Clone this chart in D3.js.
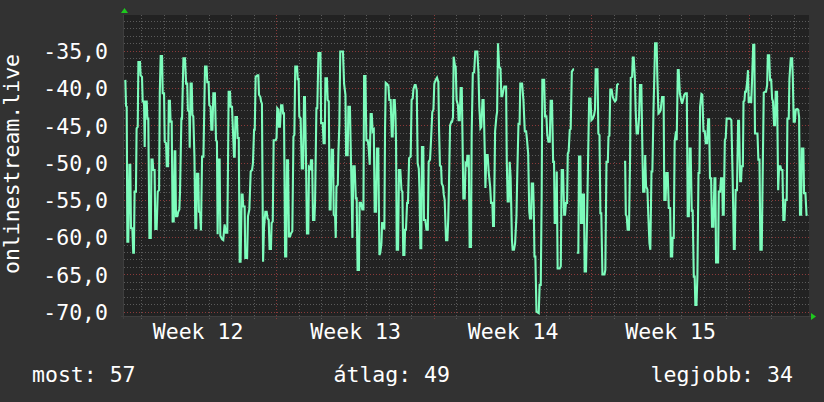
<!DOCTYPE html>
<html>
<head>
<meta charset="utf-8">
<script src="https://cdn.jsdelivr.net/npm/d3@7"></script>
<style>
  html, body { margin: 0; padding: 0; background: #323232; }
  svg { display: block; }
  text { font-family: "DejaVu Sans Mono", monospace; fill: #ffffff; }
</style>
</head>
<body>
<svg id="chart" width="824" height="402"></svg>
<script>
// ---------------- DATA ----------------
// time in days since Monday of Week 12, value in dB (null = no data)
const seriesWeek12 = [
[0.29,-38.9],[0.32,-42.4],[0.35,-42.5],[0.38,-60.6],[0.42,-60.6],[0.47,-50.3],[0.51,-50.3],[0.54,-58.8],[0.60,-58.8],[0.64,-62.1],[0.67,-62.1],[0.70,-53.9],[0.76,-53.9],[0.79,-45.4],[0.84,-45.2],[0.87,-36.5],[0.94,-36.5],[0.97,-38.3],[1.03,-38.5],[1.06,-41.8],[1.12,-41.8],[1.15,-47.9],[1.18,-41.8],[1.24,-41.8],[1.27,-44.1],[1.31,-44.1],[1.36,-60.1],[1.42,-60.1],[1.45,-49.6],[1.50,-49.6],[1.53,-51.0],[1.59,-51.0],[1.62,-58.9],[1.68,-58.9],[1.73,-53.9],[1.79,-53.7],[1.82,-40.7],[1.86,-35.7],[1.92,-35.7],[1.95,-40.7],[2.01,-40.7],[2.04,-47.2],[2.10,-47.4],[2.13,-50.5],[2.19,-50.5],[2.22,-41.7],[2.27,-41.7],[2.30,-44.5],[2.35,-44.5],[2.39,-57.9],[2.44,-57.9],[2.48,-48.5],[2.51,-48.5],[2.54,-57.2],[2.60,-57.2],[2.64,-56.6],[2.69,-56.3],[2.72,-53.9],[2.78,-44.1],[2.81,-44.1],[2.87,-36.0],[2.94,-36.0],[2.99,-39.4],[3.04,-39.4],[3.07,-43.0],[3.13,-43.2],[3.15,-48.0],[3.19,-39.4],[3.24,-39.4],[3.27,-43.6],[3.31,-43.8],[3.36,-49.2],[3.40,-58.8],[3.44,-58.8],[3.47,-51.5],[3.53,-51.5],[3.56,-56.6],[3.61,-56.7],[3.65,-59.1],[3.70,-49.2],[3.76,-49.2],[3.83,-37.1],[3.90,-37.1],[3.93,-39.2],[3.99,-39.2],[4.02,-42.3],[4.08,-42.5],[4.11,-45.6],[4.16,-45.6],[4.20,-40.7],[4.27,-40.7],[4.32,-47.0],[4.36,-47.2],[4.39,-59.6],[4.44,-49.6],[4.48,-49.6],[4.51,-59.8],[4.59,-60.3],[4.64,-60.4],[4.70,-58.3],[4.76,-59.4],[4.82,-59.4],[4.85,-50.8],[4.88,-40.5],[4.94,-40.5],[4.97,-42.5],[5.03,-42.5],[5.07,-45.6],[5.12,-49.2],[5.15,-49.2],[5.18,-43.9],[5.25,-43.9],[5.28,-46.7],[5.33,-46.7],[5.37,-63.3],[5.41,-63.3],[5.46,-54.3],[5.50,-54.3],[5.53,-55.9],[5.59,-55.9],[5.62,-62.8],[5.70,-62.8],[5.74,-57.2],[5.80,-56.3],[5.86,-51.2],[5.92,-51.0],[5.96,-50.1],[6.01,-45.6],[6.04,-45.6],[6.08,-38.5],[6.16,-38.3]
];
const seriesWeek13 = [
[6.20,-38.3],[6.23,-40.9],[6.29,-41.2],[6.32,-41.8],[6.36,-42.1],[6.41,-63.3],[6.45,-58.8],[6.51,-56.6],[6.57,-56.6],[6.61,-57.5],[6.66,-57.7],[6.70,-61.6],[6.76,-61.6],[6.79,-58.1],[6.84,-57.9],[6.88,-47.0],[6.97,-47.0],[7.01,-46.7],[7.04,-42.7],[7.09,-42.9],[7.12,-45.2],[7.16,-45.2],[7.21,-42.3],[7.27,-42.3],[7.30,-43.4],[7.34,-43.4],[7.39,-62.6],[7.44,-62.6],[7.47,-49.7],[7.52,-49.7],[7.56,-59.9],[7.61,-59.9],[7.65,-59.5],[7.71,-59.2],[7.76,-46.5],[7.80,-46.3],[7.84,-37.1],[7.92,-37.1],[7.95,-38.8],[7.99,-38.8],[8.02,-43.8],[8.08,-44.1],[8.13,-50.8],[8.19,-50.8],[8.23,-41.2],[8.27,-41.2],[8.32,-50.1],[8.36,-59.5],[8.42,-59.5],[8.45,-50.6],[8.51,-50.8],[8.54,-49.7],[8.59,-49.7],[8.63,-57.7],[8.69,-57.7],[8.72,-55.4],[8.78,-42.7],[8.82,-42.7],[8.87,-35.3],[8.96,-35.3],[8.99,-44.7],[9.06,-44.7],[9.10,-47.4],[9.15,-47.4],[9.18,-38.7],[9.25,-38.7],[9.28,-41.6],[9.33,-41.8],[9.37,-56.3],[9.41,-56.3],[9.46,-48.3],[9.52,-48.3],[9.55,-57.0],[9.61,-57.2],[9.64,-60.1],[9.67,-53.2],[9.73,-53.0],[9.76,-48.5],[9.80,-45.0],[9.84,-35.1],[9.96,-35.1],[10.01,-39.4],[10.07,-40.9],[10.10,-49.0],[10.17,-49.0],[10.20,-42.5],[10.27,-42.5],[10.30,-47.2],[10.35,-54.8],[10.38,-60.1],[10.42,-50.5],[10.48,-50.5],[10.53,-54.8],[10.57,-54.8],[10.61,-64.4],[10.67,-64.4],[10.70,-55.4],[10.76,-55.4],[10.82,-56.3],[10.87,-56.3],[10.90,-38.4],[10.96,-38.4],[11.00,-47.0],[11.06,-47.0],[11.10,-47.9],[11.15,-50.3],[11.19,-43.5],[11.24,-43.5],[11.28,-45.8],[11.33,-45.6],[11.37,-56.6],[11.43,-56.6],[11.47,-48.1],[11.53,-48.1],[11.58,-62.4],[11.62,-62.1],[11.67,-60.8],[11.70,-58.1],[11.76,-58.1],[11.80,-59.0],[11.83,-45.6],[11.86,-39.3],[11.93,-39.5],[11.98,-39.7],[12.02,-41.6],[12.08,-41.6],[12.13,-46.5],[12.17,-46.5],[12.21,-41.6]
];
const seriesWeek14 = [
[12.26,-41.6],[12.29,-43.4],[12.32,-47.4],[12.35,-61.7],[12.41,-61.7],[12.45,-51.0],[12.51,-51.0],[12.56,-53.7],[12.60,-53.9],[12.64,-62.4],[12.69,-62.4],[12.72,-59.0],[12.76,-59.0],[12.81,-55.4],[12.85,-55.4],[12.90,-49.4],[12.97,-49.2],[13.01,-41.6],[13.06,-41.4],[13.09,-40.2],[13.15,-39.6],[13.19,-39.6],[13.24,-40.3],[13.28,-50.1],[13.33,-50.8],[13.36,-53.7],[13.40,-61.5],[13.44,-61.5],[13.47,-47.9],[13.53,-47.9],[13.56,-57.7],[13.62,-57.7],[13.67,-59.0],[13.73,-59.0],[13.77,-49.9],[13.83,-49.6],[13.87,-47.2],[13.93,-43.2],[13.98,-42.9],[14.02,-39.4],[14.08,-38.9],[14.14,-38.6],[14.20,-39.2],[14.23,-45.6],[14.27,-50.4],[14.32,-50.5],[14.35,-52.8],[14.41,-53.2],[14.44,-54.3],[14.48,-55.0],[14.51,-57.7],[14.54,-60.4],[14.60,-60.4],[14.64,-57.5],[14.67,-53.2],[14.72,-45.0],[14.78,-44.5],[14.81,-44.5],[14.85,-43.9],[14.88,-35.8],[14.93,-36.9],[14.97,-37.1],[15.01,-41.6],[15.07,-42.3],[15.10,-44.3],[15.15,-44.3],[15.19,-40.0],[15.24,-40.0],[15.27,-46.1],[15.31,-54.8],[15.37,-54.8],[15.41,-50.1],[15.46,-50.3],[15.49,-49.1],[15.55,-49.1],[15.59,-61.3],[15.65,-61.3],[15.68,-46.1],[15.73,-38.0],[15.79,-37.9],[15.84,-35.1],[15.93,-35.1],[15.98,-37.8],[16.02,-42.5],[16.07,-45.4],[16.11,-45.2],[16.16,-41.6],[16.21,-41.6],[16.26,-48.3],[16.29,-53.4],[16.33,-49.0],[16.39,-49.0],[16.44,-51.4],[16.50,-53.2],[16.54,-55.4],[16.60,-55.4],[16.63,-58.5],[16.67,-58.5],[16.72,-45.8],[16.78,-43.8],[16.81,-43.2],[16.85,-34.0],[16.90,-37.1],[16.96,-37.4],[17.00,-41.1],[17.04,-41.1],[17.09,-40.3],[17.13,-39.8],[17.21,-39.8],[17.24,-49.9],[17.28,-55.2],[17.33,-55.2],[17.37,-49.9],[17.41,-51.9],[17.47,-60.4],[17.50,-61.7],[17.56,-61.7],[17.61,-60.8],[17.67,-57.2],[17.71,-51.0],[17.76,-44.8],[17.81,-44.8],[17.84,-39.4],[17.92,-39.4],[17.98,-41.6],[18.04,-45.8],[18.10,-45.8],[18.14,-47.0],[18.19,-48.8],[18.24,-56.6]
];
const seriesWeek15 = [
[18.27,-57.5],[18.32,-57.5],[18.35,-52.8],[18.41,-52.8],[18.44,-56.1],[18.47,-62.6],[18.51,-62.6],[18.56,-70.0],[18.66,-70.2],[18.70,-66.4],[18.75,-66.4],[18.79,-54.6],[18.82,-38.9],[18.90,-38.9],[18.94,-43.8],[19.00,-43.8],[19.04,-46.3],[19.09,-47.2],[19.15,-47.2],[19.19,-41.7],[19.25,-41.7],[19.30,-49.9],[19.34,-49.9],[19.37,-58.1],[19.43,-58.1],[19.46,-51.2],[19.50,-64.2],[19.59,-64.2],[19.64,-63.9],[19.68,-51.0],[19.74,-51.0],[19.79,-57.0],[19.83,-57.0],[19.87,-55.4],[19.92,-55.4],[19.95,-48.8],[19.99,-48.5],[20.04,-45.6],[20.08,-45.5],[20.13,-37.8],[20.20,-37.5],[20.23,-37.5],
[20.29,null],
[20.35,-62.1],[20.42,-62.1],[20.45,-49.2],[20.51,-49.2],[20.54,-58.1],[20.59,-58.1],[20.61,-54.3],[20.67,-54.3],[20.70,-64.6],[20.76,-64.6],[20.81,-57.2],[20.85,-50.1],[20.90,-41.4],[20.96,-41.4],[21.00,-44.3],[21.06,-44.1],[21.12,-43.6],[21.16,-42.9],[21.19,-37.5],[21.27,-37.5],[21.31,-46.1],[21.36,-46.3],[21.40,-56.8],[21.44,-56.8],[21.49,-65.0],[21.58,-65.0],[21.62,-64.4],[21.67,-49.9],[21.73,-49.9],[21.76,-46.5],[21.80,-46.4],[21.84,-40.2],[21.90,-40.2],[21.95,-41.2],[22.01,-41.6],[22.05,-41.8],[22.10,-41.6],[22.14,-39.6],[22.21,-39.4],
[22.33,null],
[22.45,-49.9],[22.50,-49.9],[22.53,-57.0],[22.57,-57.2],[22.61,-59.0],[22.67,-59.0],[22.72,-49.2],[22.75,-38.6],[22.81,-38.5],[22.84,-35.9],[22.88,-35.9],[22.93,-38.5],[22.97,-43.2],[23.01,-46.1],[23.07,-46.1],[23.12,-43.8],[23.16,-39.6],[23.22,-39.6],[23.27,-49.0],[23.30,-53.9],[23.36,-53.9],[23.39,-49.0],[23.43,-53.2],[23.49,-53.6],[23.53,-57.2],[23.58,-60.8],[23.62,-61.7],[23.67,-51.2],[23.71,-51.2],[23.76,-42.9],[23.80,-38.0],[23.83,-34.0],[23.90,-34.0],[23.93,-38.5],[23.98,-43.4],[24.04,-43.2],[24.08,-42.9],[24.14,-41.2],[24.21,-41.2],[24.24,-55.0]
];
const seriesWeek16 = [
[24.30,-55.0],[24.33,-51.4],[24.39,-51.4],[24.44,-56.1],[24.50,-56.1],[24.53,-62.6],[24.59,-62.6],[24.61,-60.1],[24.66,-60.1],[24.70,-47.2],[24.76,-45.8],[24.79,-47.0],[24.84,-37.6],[24.88,-37.6],[24.93,-40.7],[24.99,-41.6],[25.03,-42.1],[25.07,-41.6],[25.13,-40.9],[25.18,-40.7],[25.24,-40.7],[25.28,-57.2],[25.33,-57.2],[25.37,-48.1],[25.41,-48.1],[25.46,-56.6],[25.50,-56.3],[25.55,-65.3],[25.59,-65.3],[25.62,-69.1],[25.67,-69.1],[25.71,-65.3],[25.76,-51.4],[25.80,-51.4],[25.83,-42.5],[25.89,-40.8],[25.93,-40.9],[25.98,-45.8],[26.04,-45.8],[26.08,-47.4],[26.14,-47.4],[26.19,-44.2],[26.23,-44.2],[26.27,-52.1],[26.32,-52.1],[26.36,-58.6],[26.42,-58.6],[26.47,-52.1],[26.51,-52.1],[26.54,-63.4],[26.63,-63.4],[26.66,-53.9],[26.72,-53.9],[26.76,-52.1],[26.81,-52.1],[26.84,-57.0],[26.88,-57.0],[26.93,-47.0],[26.97,-46.7],[27.01,-44.1],[27.09,-44.1],[27.16,-44.1],[27.22,-44.3],[27.28,-52.5],[27.33,-61.6],[27.37,-61.6],[27.41,-53.7],[27.47,-53.7],[27.52,-44.4],[27.56,-44.4],[27.61,-52.5],[27.65,-52.5],[27.68,-50.5],[27.73,-50.5],[27.76,-41.8],[27.80,-41.7],[27.83,-40.5],[27.87,-40.5],[27.92,-39.2],[27.96,-37.6],[27.99,-42.0],[28.05,-41.5],[28.10,-42.0],[28.14,-38.9],[28.19,-34.2],[28.24,-34.2],[28.27,-46.1],[28.33,-46.1],[28.38,-46.1],[28.42,-49.6],[28.47,-49.6],[28.51,-61.7],[28.57,-61.7],[28.61,-51.9],[28.66,-40.6],[28.72,-40.5],[28.76,-40.5],[28.81,-39.6],[28.84,-35.6],[28.90,-35.6],[28.94,-38.9],[28.99,-38.9],[29.03,-41.4],[29.07,-41.8],[29.12,-45.0],[29.16,-45.0],[29.19,-40.5],[29.25,-40.5],[29.30,-53.7],[29.34,-50.5],[29.40,-50.5],[29.44,-51.0],[29.49,-51.0],[29.53,-57.7],[29.58,-57.7],[29.62,-55.0],[29.68,-55.0],[29.71,-44.1],[29.77,-44.1],[29.80,-38.8],[29.86,-36.0],[29.92,-36.0],[29.95,-38.5],[29.99,-44.5],[30.04,-44.5],[30.08,-42.9],[30.14,-42.8],[30.19,-42.9],[30.23,-43.9],[30.27,-57.0],[30.32,-57.0],[30.35,-48.1],[30.42,-48.1],[30.45,-54.1],[30.51,-54.1],[30.56,-57.0],[30.60,-57.1]
];

const timeDomain = [0.23, 30.67];        // days shown
const valueDomain = [-70.58, -30.2];
const weekStarts = [0, 7, 14, 21, 28];
const weekLabels = ["Week 12", "Week 13", "Week 14", "Week 15"];
const weekCenters = [3.5, 10.5, 17.5, 24.5];
const yTicks = [-70, -65, -60, -55, -50, -45, -40, -35];
const yTitle = "onlinestream.live";
const legendLabels = ["most", "átlag", "legjobb"];
const legendValues = [57, 49, 34];

// ---------------- DRAW ----------------
const series = [].concat(seriesWeek12, seriesWeek13, seriesWeek14, seriesWeek15, seriesWeek16);
const svg = d3.select("#chart");
const W = 824, H = 402;
const L = 124, R = 809, T = 15, B = 316;
const FS = 21.5;

svg.append("rect").attr("width", W).attr("height", H).attr("fill", "#323232");
svg.append("rect").attr("x", L).attr("y", T).attr("width", R - L).attr("height", B - T).attr("fill", "#222222");

const x = d3.scaleLinear().domain(timeDomain).range([L, R]);
const y = d3.scaleLinear().domain(valueDomain).range([B, T]);

const minorY = d3.range(-70, -30, 1);
const minorX = d3.range(1, 31, 1);

// horizontal grid
svg.append("g").selectAll("line").data(minorY).join("line")
  .attr("x1", L).attr("x2", R + 2)
  .attr("y1", d => Math.round(y(d)) + 0.5).attr("y2", d => Math.round(y(d)) + 0.5)
  .attr("stroke", d => d % 5 === 0 ? "#8a3a3a" : "#5a5a5a")
  .attr("stroke-width", 1)
  .attr("stroke-dasharray", "1,2");

// vertical grid
svg.append("g").selectAll("line").data(minorX).join("line")
  .attr("x1", d => Math.round(x(d)) + 0.5).attr("x2", d => Math.round(x(d)) + 0.5)
  .attr("y1", T).attr("y2", B + 3)
  .attr("stroke", d => weekStarts.includes(d) ? "#8a3a3a" : "#5a5a5a")
  .attr("stroke-width", 1)
  .attr("stroke-dasharray", "1,2");

// axis lines
svg.append("line").attr("x1", L - 0.5).attr("x2", L - 0.5).attr("y1", T).attr("y2", B + 3)
  .attr("stroke", "#3e3e3e");
svg.append("line").attr("x1", L - 3).attr("x2", R + 2).attr("y1", B + 0.5).attr("y2", B + 0.5)
  .attr("stroke", "#3e3e3e");

// data line
const line = d3.line()
  .defined(d => d[1] !== null)
  .x(d => x(d[0]))
  .y(d => y(d[1]));
svg.append("path").datum(series)
  .attr("d", line)
  .attr("fill", "none")
  .attr("stroke", "#7dfcbc")
  .attr("stroke-width", 2.1)
  .attr("stroke-linejoin", "miter");

// arrows
svg.append("path").attr("d", `M${L - 3},${T - 2} L${L + 0.5},${T - 7} L${L + 4},${T - 2} Z`).attr("fill", "#1ec81e");
svg.append("path").attr("d", `M${R + 2},${B - 3} L${R + 7},${B + 0.5} L${R + 2},${B + 4} Z`).attr("fill", "#1ec81e");

// y axis labels
const loc = d3.formatLocale({decimal: ",", thousands: " ", grouping: [3], currency: ["", ""], minus: "-"});
const fmt = loc.format(".1f");
const yAxis = d3.axisLeft(y).tickValues(yTicks).tickFormat(fmt).tickSize(0).tickPadding(16);
const gy = svg.append("g").attr("transform", `translate(${L},0)`).call(yAxis);
gy.select(".domain").remove();
gy.selectAll("text").attr("font-family", "DejaVu Sans Mono").attr("font-size", FS).attr("fill", "#fff").attr("dy", "0.36em");

// x axis labels
const xAxis = d3.axisBottom(x).tickValues(weekCenters).tickFormat((d, i) => weekLabels[i]).tickSize(0).tickPadding(8);
const gx = svg.append("g").attr("transform", `translate(0,${B})`).call(xAxis);
gx.select(".domain").remove();
gx.selectAll("text").attr("font-family", "DejaVu Sans Mono").attr("font-size", FS).attr("fill", "#fff").attr("dy", "0.71em");

// y title
svg.append("text")
  .attr("transform", `translate(19,164) rotate(-90)`)
  .attr("text-anchor", "middle")
  .attr("font-size", FS)
  .text(yTitle);

// legend
const legendX = [32, 333.5, 650.5];
svg.append("g").selectAll("text").data(legendLabels).join("text")
  .attr("x", (d, i) => legendX[i])
  .attr("y", 382)
  .attr("font-size", FS)
  .text((d, i) => `${d}: ${legendValues[i]}`);
</script>
</body>
</html>
